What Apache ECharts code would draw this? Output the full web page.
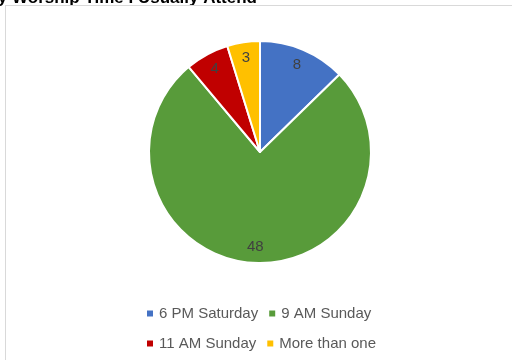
<!DOCTYPE html>
<html>
<head>
<meta charset="utf-8">
<script src="https://cdn.jsdelivr.net/npm/echarts@6/dist/echarts.min.js"></script>
<style>
  html, body { margin: 0; padding: 0; background: #fff; }
  #chart { width: 512px; height: 360px; }
  .frame { position: absolute; left: 5px; top: 5px; right: 0; bottom: 0;
           border-left: 1px solid #d9d9d9; border-top: 1px solid #d9d9d9; pointer-events: none; }
</style>
</head>
<body>
<div id="chart"></div>
<div class="frame"></div>
<script>
// Worship attendance survey counts
const titleText = 'My Worship Time I Usually Attend';
const categories = ['6 PM Saturday', '9 AM Sunday', '11 AM Sunday', 'More than one'];
const counts = [8, 48, 4, 3];
const colors = ['#4472C4', '#589B3A', '#C00000', '#FFC000'];

const font = 'Liberation Sans, Arial, sans-serif';
const pieData = categories.map((name, i) => ({ name, value: counts[i] }));

const chart = echarts.init(document.getElementById('chart'), null, { renderer: 'canvas' });

const legendBase = {
  left: 140,
  orient: 'horizontal',
  icon: 'rect',
  itemWidth: 8,
  itemHeight: 8,
  itemGap: 9,
  selectedMode: false,
  textStyle: { color: '#595959', fontSize: 15, fontFamily: font }
};

chart.setOption({
  animation: false,
  color: colors,
  title: {
    text: titleText,
    right: 250,
    top: -15,
    textStyle: { fontSize: 17, fontWeight: 'bold', color: '#000', fontFamily: font }
  },
  legend: [
    Object.assign({}, legendBase, { top: 301, data: categories.slice(0, 2) }),
    Object.assign({}, legendBase, { top: 331, data: categories.slice(2, 4) })
  ],
  series: [
    {
      type: 'pie',
      center: [260, 152],
      radius: 111,
      startAngle: 90,
      clockwise: true,
      silent: true,
      label: { show: false },
      labelLine: { show: false },
      itemStyle: { borderColor: '#fff', borderWidth: 2 },
      data: pieData
    },
    {
      // transparent ring that carries the value labels near the rim
      type: 'pie',
      center: [260, 152],
      radius: [73, 111],
      startAngle: 90,
      clockwise: true,
      silent: true,
      legendHoverLink: false,
      itemStyle: { color: 'rgba(0,0,0,0)', borderWidth: 0 },
      label: {
        show: true,
        position: 'inside',
        formatter: '{c}',
        color: '#404040',
        fontSize: 15,
        fontFamily: font
      },
      labelLine: { show: false },
      data: pieData
    }
  ]
});
</script>
</body>
</html>
